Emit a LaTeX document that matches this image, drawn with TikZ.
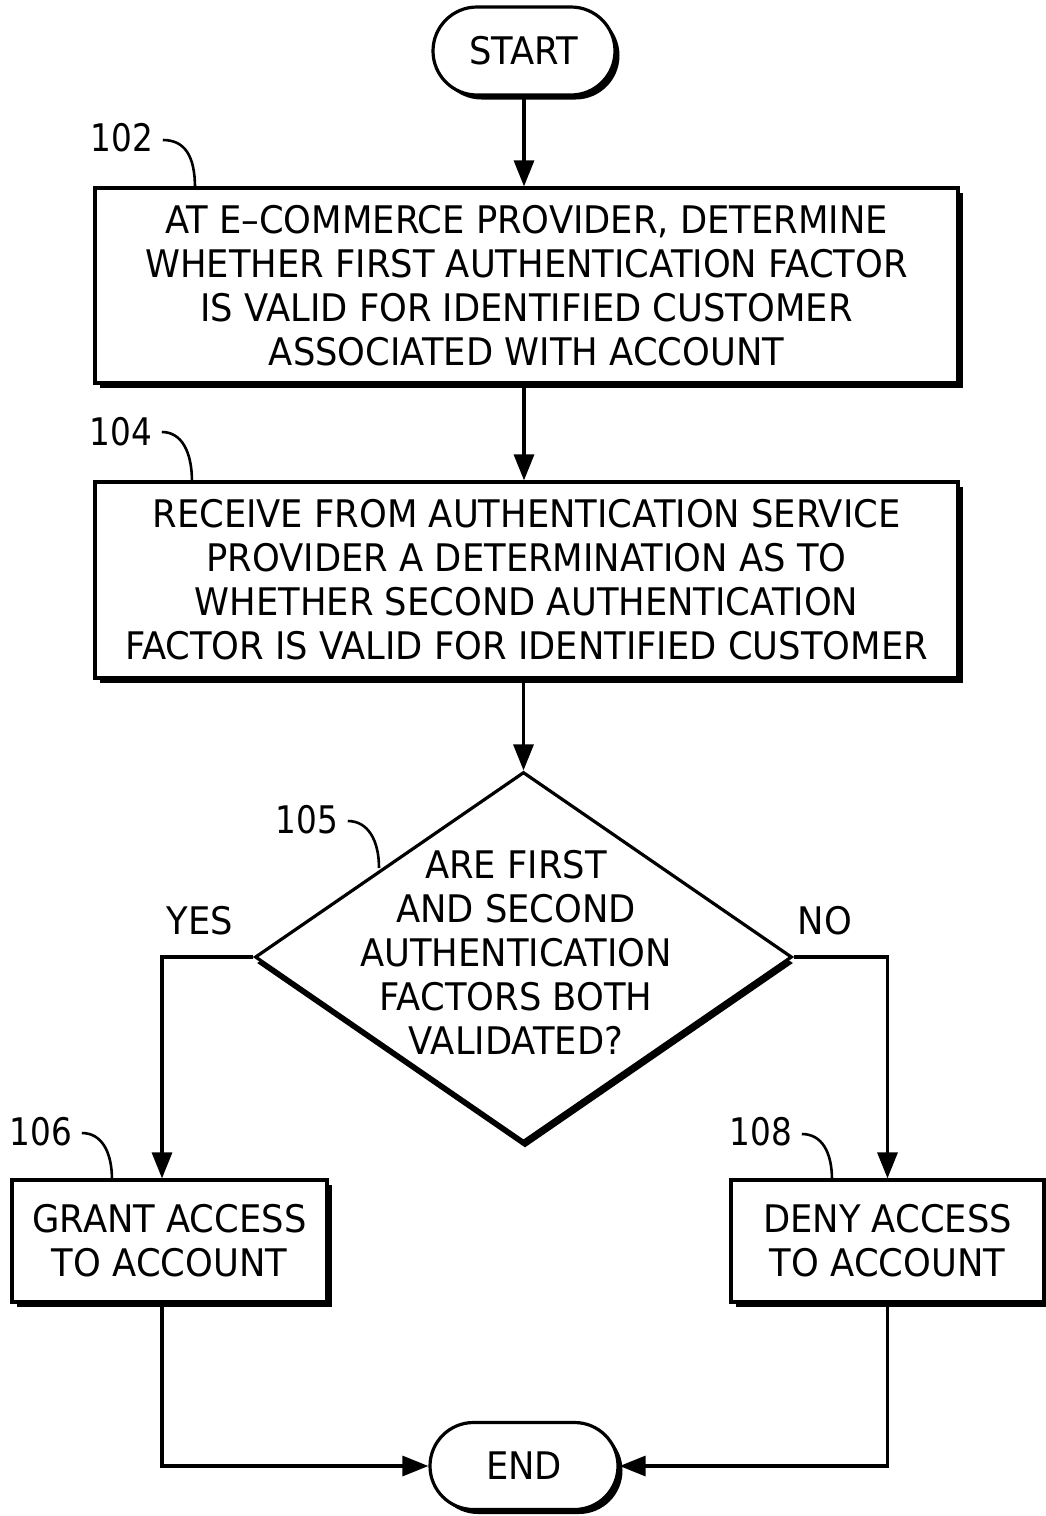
\documentclass[tikz,border=0pt]{standalone}
\usepackage{fontspec}
\setmainfont[FakeStretch=0.93]{DejaVu Sans}
\newfontfamily\numfont[FakeStretch=0.86]{DejaVu Sans}
\usetikzlibrary{shapes.geometric,shapes.misc,shadows,arrows.meta}

\begin{document}
\begin{tikzpicture}[x=1pt,y=-1pt,line width=3.2pt,
  every node/.style={font=\fontsize{38}{44}\selectfont, inner sep=0pt},
  shade3d/.style={drop shadow={shadow xshift=4.5pt, shadow yshift=-4.5pt, fill=black, opacity=1}},
  procbox/.style={draw, fill=white, rectangle, align=center, shade3d},
  termbox/.style={draw, fill=white, rounded rectangle, shade3d},
  decbox/.style={draw, fill=white, diamond,
    drop shadow={shadow xshift=1.5pt, shadow yshift=-6pt, fill=black, opacity=1}},
  reflabel/.style={font=\numfont\fontsize{38}{44}\selectfont},
  leader/.style={line width=2.6pt},
  arr/.style={-{Triangle[length=26pt,width=20pt]}}]

\useasboundingbox (0,0) rectangle (1046,1516);
\clip (0,0) rectangle (1046,1516);

% terminals
\node[termbox, minimum width=182pt, minimum height=88pt] (start) at (524,51) {START};
\node[termbox, minimum width=188pt, minimum height=87pt] (stop) at (524,1466) {END};

% process steps
\node[procbox, minimum width=863pt, minimum height=195pt] (b102) at (526.5,285.5)
  {AT E–COMMERCE PROVIDER, DETERMINE\\WHETHER FIRST AUTHENTICATION FACTOR\\IS VALID FOR IDENTIFIED CUSTOMER\\ASSOCIATED WITH ACCOUNT};
\node[procbox, minimum width=863pt, minimum height=196pt] (b104) at (526.5,580)
  {RECEIVE FROM AUTHENTICATION SERVICE\\PROVIDER A DETERMINATION AS TO\\WHETHER SECOND AUTHENTICATION\\FACTOR IS VALID FOR IDENTIFIED CUSTOMER};

% decision
\node[decbox, minimum width=537pt, minimum height=370pt] (dec) at (523.5,957) {};
\node[align=center] (dectext) at (516,952)
  {ARE FIRST\\AND SECOND\\AUTHENTICATION\\FACTORS BOTH\\VALIDATED?};

% outcomes
\node[procbox, minimum width=315pt, minimum height=122pt] (b106) at (169.5,1241)
  {GRANT ACCESS\\TO ACCOUNT};
\node[procbox, minimum width=313pt, minimum height=122pt] (b108) at (887.5,1241)
  {DENY ACCESS\\TO ACCOUNT};

% branch labels
\node (yes) at (200,921) {YES};
\node (no) at (825,921) {NO};

% flow
\draw[arr] (start.south) -- (start.south |- b102.north);
\draw[arr] (start.south |- b102.south) -- (start.south |- b104.north);
\draw[arr] (dec.north |- b104.south) -- (dec.north);
\draw[arr] (dec.west) -| ([xshift=-7.5pt]b106.north);
\draw[arr] (dec.east) -| (b108.north);
\draw[arr] ([xshift=-7.5pt]b106.south) |- (stop.west);
\draw[arr] (b108.south) |- (stop.east);

% reference numerals
\node[reflabel] (l102) at (122,138) {102};
\node[reflabel] (l104) at (121,432) {104};
\node[reflabel] (l105) at (307,820) {105};
\node[reflabel] (l106) at (41,1132) {106};
\node[reflabel] (l108) at (761,1132) {108};

\draw[leader] (l102.east) ++(8,2) .. controls +(22,0) and +(0,-32) .. (195,188);
\draw[leader] (l104.east) ++(8,0) .. controls +(20,0) and +(0,-30) .. (192,482);
\draw[leader] (l105.east) ++(8,1) .. controls +(20,0) and +(0,-28) .. (379,868);
\draw[leader] (l106.east) ++(8,1) .. controls +(20,0) and +(0,-28) .. (112,1180);
\draw[leader] (l108.east) ++(8,2) .. controls +(20,0) and +(0,-28) .. (832,1180);
\end{tikzpicture}
\end{document}
